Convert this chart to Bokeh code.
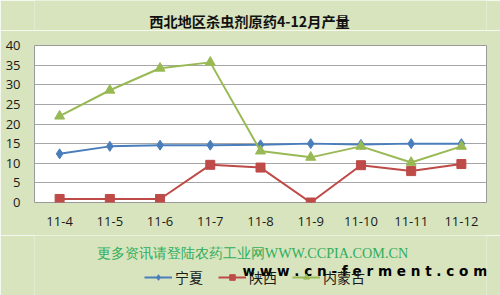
from bokeh.plotting import figure
from bokeh.layouts import column
from bokeh.models import ColumnDataSource, Legend, LegendItem, Label, FixedTicker, Range1d, FactorRange
from bokeh.embed import file_html
from bokeh.resources import INLINE

months = ["11-4", "11-5", "11-6", "11-7", "11-8", "11-9", "11-10", "11-11", "11-12"]
ningxia = [12.4, 14.3, 14.6, 14.6, 14.7, 15.0, 14.8, 15.0, 15.0]
shaanxi = [0.9, 0.9, 0.9, 9.6, 8.9, 0.0, 9.5, 8.0, 9.8]
neimenggu = [22.0, 28.6, 34.2, 35.7, 13.1, 11.5, 14.3, 10.2, 14.3]
y_ticks = [0, 5, 10, 15, 20, 25, 30, 35, 40]
series_names = ["宁夏", "陕西", "内蒙古"]

src = ColumnDataSource(dict(m=months, nx=ningxia, sx=shaanxi, nm=neimenggu))

BG = "#D7E4BD"
CJK = "Noto Sans CJK SC"
c_nx, c_sx, c_nm = "#4A7EBB", "#BE4B48", "#98B954"

# ---------------- main chart ----------------
p = figure(width=500, height=205, x_range=FactorRange(*months, range_padding=0),
           y_range=Range1d(0, 40), output_backend="svg", toolbar_location=None,
           min_border_left=34, min_border_right=14, min_border_top=15, min_border_bottom=33)
p.background_fill_color = "white"
p.border_fill_color = BG
p.outline_line_color = "#9A9A9A"
p.outline_line_width = 1

p.xgrid.grid_line_color = None
p.ygrid.grid_line_color = "#A6A6A6"
p.ygrid.grid_line_width = 1
p.yaxis.ticker = FixedTicker(ticks=y_ticks)

for ax in (p.xaxis, p.yaxis):
    ax.axis_line_color = None
    ax.major_tick_line_color = None
    ax.minor_tick_line_color = None
    ax.major_label_text_font = "Open Sans"
    ax.major_label_text_font_size = "13px"
    ax.major_label_text_color = "#1A1A1A"
p.yaxis.major_label_standoff = 8
p.xaxis.major_label_standoff = 8

p.line("m", "nx", source=src, color=c_nx, line_width=2)
p.scatter("m", "nx", source=src, marker="diamond", size=10, color=c_nx)
p.line("m", "sx", source=src, color=c_sx, line_width=2)
p.scatter("m", "sx", source=src, marker="square", size=9, color=c_sx)
p.line("m", "nm", source=src, color=c_nm, line_width=2)
p.scatter("m", "nm", source=src, marker="triangle", size=10, color=c_nm)


def strip(h, xr, yr):
    f = figure(width=500, height=h, x_range=xr, y_range=yr, output_backend="svg",
               toolbar_location=None, min_border=0, x_axis_type=None, y_axis_type=None)
    f.background_fill_color = BG
    f.border_fill_color = BG
    f.outline_line_color = None
    return f


# strips' frames line up with the main frame (left edge at 34 px)
# ---------------- title strip ----------------
top = strip(30, Range1d(0, 1), Range1d(0, 1))
top.add_layout(Label(x=215, y=10, x_units="screen", y_units="screen",
                     text="西北地区杀虫剂原药4-12月产量", text_font=CJK,
                     text_font_size="14.2px", text_font_style="bold", text_color="#111111",
                     text_align="center", text_baseline="middle"))

# ---------------- footer / legend strip ----------------
# legend swatches come from series drawn outside this strip's visible y range
bot = strip(60, FactorRange(*months, range_padding=0), Range1d(100, 200))
r1 = [bot.line("m", "nx", source=src, color=c_nx, line_width=2),
      bot.scatter("m", "nx", source=src, marker="diamond", size=8, color=c_nx)]
r2 = [bot.line("m", "sx", source=src, color=c_sx, line_width=2),
      bot.scatter("m", "sx", source=src, marker="square", size=7, color=c_sx)]
r3 = [bot.line("m", "nm", source=src, color=c_nm, line_width=2),
      bot.scatter("m", "nm", source=src, marker="triangle", size=8, color=c_nm)]

bot.add_layout(Label(x=218, y=43, x_units="screen", y_units="screen",
                     text="更多资讯请登陆农药工业网WWW.CCPIA.COM.CN",
                     text_font="Liberation Serif", text_font_size="14.2px",
                     text_align="center", text_baseline="middle", text_color="#2FAE5E"))

legend = Legend(items=[LegendItem(label=series_names[0], renderers=r1),
                       LegendItem(label=series_names[1], renderers=r2),
                       LegendItem(label=series_names[2], renderers=r3)],
                orientation="horizontal", location=(110, 8),
                background_fill_alpha=0, border_line_color=None,
                label_text_font=CJK, label_text_font_size="14px", label_text_color="#1A1A1A",
                glyph_width=28, glyph_height=14, label_height=14, label_standoff=3,
                spacing=15, padding=0, margin=0)
bot.add_layout(legend, "center")

bot.add_layout(Label(x=208, y=25, x_units="screen", y_units="screen",
                     text="w w w . c n - f e r m e n t . c o m",
                     text_font="DejaVu Sans", text_font_size="13.6px", text_font_style="bold",
                     text_align="left", text_baseline="middle", text_color="#000000"))

layout = column(top, p, bot, spacing=0)
open("out.html", "w").write(file_html(layout, INLINE))
